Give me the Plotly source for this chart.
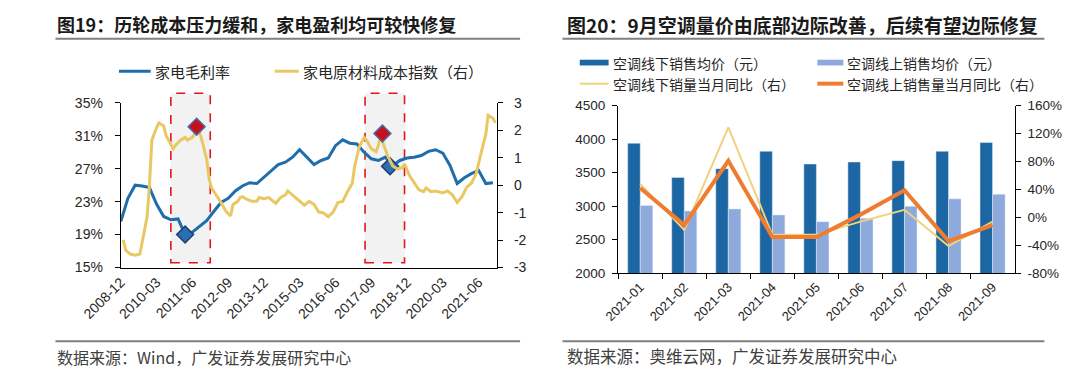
import plotly.graph_objects as go
import pandas as pd

W, H = 1080, 378
CJK = "Noto Sans CJK SC"
LAT = "Liberation Sans, Arial, sans-serif"

# ---------------- Figure 19 data ----------------
margin_dates = pd.date_range("2008-12-01", periods=53, freq="3MS").strftime("%Y-%m-%d").tolist()
margin_values = [20.6, 23.4, 25.0, 24.9, 24.7, 22.7, 21.2, 20.8, 20.9, 19.0,
                 19.3, 20.0, 20.7, 21.8, 22.9, 23.4, 24.3, 24.9, 25.3, 25.2,
                 26.0, 26.8, 27.5, 27.8, 28.4, 29.3, 28.4, 27.5, 28.0, 28.3,
                 29.8, 30.5, 30.1, 30.0, 29.0, 28.2, 28.0, 28.4, 27.4, 28.0,
                 28.3, 28.4, 28.6, 29.1, 29.3, 28.9, 27.4, 25.2, 25.9, 26.4,
                 26.8, 25.2, 25.3]

cost_dates = ["2009-01", "2009-02", "2009-04", "2009-06", "2009-08", "2009-09", "2009-11", "2009-12",
              "2010-01", "2010-03", "2010-04", "2010-06", "2010-07", "2010-08", "2010-10", "2010-11",
              "2011-01", "2011-03", "2011-04", "2011-06", "2011-08", "2011-09", "2011-10", "2011-12",
              "2012-01", "2012-02", "2012-04", "2012-06", "2012-08", "2012-10", "2012-11",
              "2013-01", "2013-02", "2013-03", "2013-05", "2013-07", "2013-09", "2013-10", "2013-12",
              "2014-02", "2014-04", "2014-05", "2014-07", "2014-09", "2014-10", "2014-12",
              "2015-02", "2015-05", "2015-07", "2015-09", "2015-11",
              "2016-01", "2016-03", "2016-05", "2016-07", "2016-09", "2016-11",
              "2017-01", "2017-02", "2017-04", "2017-06", "2017-07", "2017-09", "2017-11", "2017-12",
              "2018-01", "2018-02", "2018-04", "2018-06", "2018-08", "2018-10", "2018-11",
              "2019-01", "2019-03", "2019-05", "2019-07", "2019-08", "2019-10", "2019-12",
              "2020-03", "2020-05", "2020-07", "2020-09", "2020-11",
              "2021-01", "2021-03", "2021-05", "2021-07", "2021-09", "2021-10", "2021-12", "2022-01"]
cost_values = [-1.99, -2.37, -2.51, -2.55, -2.51, -2.09, -1.15, 0.0,
               1.64, 2.09, 2.27, 2.16, 1.81, 1.64, 1.33, 1.46,
               1.64, 1.74, 1.64, 1.74, 2.00, 1.92, 1.64, 0.94,
               0.24, -0.10, -0.35, -0.63, -0.94, -1.12, -0.70,
               -0.59, -0.45, -0.42, -0.52, -0.59, -0.59, -0.45, -0.49,
               -0.45, -0.59, -0.66, -0.45, -0.35, -0.21, -0.35,
               -0.52, -0.73, -0.59, -0.70, -0.98,
               -1.01, -1.15, -0.98, -0.63, -0.59, -0.24,
               0.07, 0.70, 1.40, 1.74, 1.64, 1.33, 1.22, 1.46,
               1.85, 1.50, 1.05, 0.70, 0.59, 0.63, 0.77,
               0.35, 0.07, -0.17, -0.24, -0.10, -0.24, -0.21,
               -0.28, -0.21, -0.35, -0.63, -0.42,
               -0.07, 0.07, 0.42, 1.15, 1.85, 2.55, 2.44, 2.27]

margin_marker_dates = ["2011-03-01", "2018-04-28"]
margin_marker_values = [19.0, 27.3]
cost_marker_dates = ["2011-07-26", "2018-01-21"]
cost_marker_values = [2.13, 1.88]

# highlighted periods (x in dates)
box_starts = ["2010-08-31", "2017-06-13"]
box_ends = ["2012-01-16", "2018-10-30"]

x19_ticks = ["2008-12", "2010-03", "2011-06", "2012-09", "2013-12", "2015-03",
             "2016-06", "2017-09", "2018-12", "2020-03", "2021-06"]
y19_left_ticks = [15, 19, 23, 27, 31, 35]
y19_right_ticks = [-3, -2, -1, 0, 1, 2, 3]

# ---------------- Figure 20 data ----------------
months20 = ["2021-01", "2021-02", "2021-03", "2021-04", "2021-05",
            "2021-06", "2021-07", "2021-08", "2021-09"]
offline_price = [3940, 3430, 3560, 3820, 3630, 3660, 3680, 3820, 3950]
online_price = [3010, 2930, 2960, 2870, 2770, 2820, 3000, 3110, 3180]
offline_vol_yoy = [48, -18, 129, -25, -25, -6, 11, -41, -6]
online_vol_yoy = [42, -11, 81, -28, -28, 4, 39, -34, -11]
y20_right_ticks = [-80, -40, 0, 40, 80, 120, 160]

NAME_MARGIN = "家电毛利率"
NAME_COST = "家电原材料成本指数（右）"
NAME_OFF_P = "空调线下销售均价（元）"
NAME_ON_P = "空调线上销售均价（元）"
NAME_OFF_V = "空调线下销量当月同比（右）"
NAME_ON_V = "空调线上销售量当月同比（右）"

BLUE = "#1f6eab"
YELLOW = "#e9c864"
DARK = "#1c67a3"
LIGHT = "#8eaadc"
THINY = "#efd27f"
ORANGE = "#ee7d31"

fig = go.Figure()

# ---- Fig 19 traces ----
fig.add_trace(go.Scatter(x=margin_dates, y=margin_values, name=NAME_MARGIN, mode="lines",
                         line=dict(color=BLUE, width=3), xaxis="x", yaxis="y"))
fig.add_trace(go.Scatter(x=cost_dates, y=cost_values, name=NAME_COST, mode="lines",
                         line=dict(color=YELLOW, width=3), xaxis="x", yaxis="y2"))
fig.add_trace(go.Scatter(x=margin_marker_dates, y=margin_marker_values, mode="markers",
                         marker=dict(symbol="diamond", size=13, color="#2a6fb0",
                                     line=dict(color="#1f3f73", width=1.5)),
                         xaxis="x", yaxis="y"))
fig.add_trace(go.Scatter(x=cost_marker_dates, y=cost_marker_values, mode="markers",
                         marker=dict(symbol="diamond", size=13, color="#c8101a",
                                     line=dict(color="#4a6aa8", width=1.5)),
                         xaxis="x", yaxis="y2"))

# ---- Fig 20 traces ----
fig.add_trace(go.Bar(x=months20, y=offline_price, name=NAME_OFF_P, marker_color=DARK,
                     xaxis="x2", yaxis="y3"))
fig.add_trace(go.Bar(x=months20, y=online_price, name=NAME_ON_P, marker_color=LIGHT,
                     xaxis="x2", yaxis="y3"))
fig.add_trace(go.Scatter(x=months20, y=offline_vol_yoy, name=NAME_OFF_V, mode="lines",
                         line=dict(color=THINY, width=2), xaxis="x2", yaxis="y4"))
fig.add_trace(go.Scatter(x=months20, y=online_vol_yoy, name=NAME_ON_V, mode="lines",
                         line=dict(color=ORANGE, width=4), xaxis="x2", yaxis="y4"))

axis_common = dict(showgrid=False, zeroline=False, showline=True, linecolor="#000", linewidth=1.3,
                   tickfont=dict(family=LAT, size=14, color="#262626"))

shapes = []
for s, e in zip(box_starts, box_ends):
    shapes.append(dict(type="rect", xref="x", yref="paper", x0=s, x1=e,
                       y0=1 - 266 / H, y1=1 - 89 / H, layer="below",
                       fillcolor="#f2f2f2", line=dict(color="#e0161b", width=1.6, dash="dash")))
# title & source rules
for (xa, xb) in [(15, 498), (542, 1043)]:
    for yy in (32, 348):
        shapes.append(dict(type="line", xref="paper", yref="paper", x0=xa / W, x1=xb / W,
                           y0=1 - yy / H, y1=1 - yy / H, line=dict(color="#808080", width=2)))

annotations = [
    dict(text="<b>图19：历轮成本压力缓和，家电盈利均可较快修复</b>", x=15 / W, y=1 - 17 / H,
         font=dict(family=CJK, size=18, color="#1a1a1a")),
    dict(text="<b>图20：9月空调量价由底部边际改善，后续有望边际修复</b>", x=545 / W, y=1 - 17 / H,
         font=dict(family=CJK, size=19, color="#1a1a1a")),
    dict(text="数据来源：Wind，广发证券发展研究中心", x=15 / W, y=1 - 364 / H,
         font=dict(family=CJK, size=16, color="#404040")),
    dict(text="数据来源：奥维云网，广发证券发展研究中心", x=545 / W, y=1 - 363 / H,
         font=dict(family=CJK, size=16.5, color="#404040")),
]

# ---- legends (drawn as samples + labels) ----
legend_items = [
    # (kind, color, thickness, x0, x1, y, label, fontsize)
    ("line", BLUE, 3, 81, 114, 66, NAME_MARGIN, 15),
    ("line", YELLOW, 3, 243, 268, 66, NAME_COST, 15),
    ("rect", DARK, 6, 560, 590, 57, NAME_OFF_P, 14),
    ("rect", LIGHT, 6, 807, 834, 57, NAME_ON_P, 14),
    ("line", THINY, 2, 560, 590, 79, NAME_OFF_V, 14),
    ("line", ORANGE, 4, 807, 834, 79, NAME_ON_V, 14),
]
for kind, col, th, xa, xb, yy, label, fs in legend_items:
    if kind == "line":
        shapes.append(dict(type="line", xref="paper", yref="paper", x0=xa / W, x1=xb / W,
                           y0=1 - yy / H, y1=1 - yy / H, line=dict(color=col, width=th)))
    else:
        shapes.append(dict(type="rect", xref="paper", yref="paper", x0=xa / W, x1=xb / W,
                           y0=1 - (yy + th / 2) / H, y1=1 - (yy - th / 2) / H,
                           fillcolor=col, line=dict(width=0)))
    annotations.append(dict(text=label, x=(xb + 2) / W, y=1 - yy / H,
                            font=dict(family=CJK, size=fs, color="#262626")))

for a in annotations:
    a.update(xref="paper", yref="paper", xanchor="left", yanchor="middle", showarrow=False)

fig.update_layout(
    autosize=True, margin=dict(l=0, r=0, t=0, b=0, pad=0),
    paper_bgcolor="white", plot_bgcolor="rgba(0,0,0,0)",
    showlegend=False,
    barmode="group", bargap=0.43, bargroupgap=0,
    xaxis=dict(axis_common, domain=[83 / W, 474 / W], anchor="y", type="date",
               range=["2008-12-01", "2022-01-22"],
               tickvals=[t + "-01" for t in x19_ticks], ticktext=x19_ticks,
               tickangle=-45, ticks=""),
    yaxis=dict(axis_common, domain=[1 - 271 / H, 1 - 99 / H], anchor="x", range=[15, 35],
               tickvals=y19_left_ticks, ticktext=[f"{v}%" for v in y19_left_ticks],
               ticks="outside", ticklen=5, tickcolor="#000", ticklabelstandoff=9),
    yaxis2=dict(axis_common, overlaying="y", side="right", anchor="x", range=[-3, 3],
                tickvals=y19_right_ticks, ticktext=[str(v) for v in y19_right_ticks],
                ticks="outside", ticklen=5, tickcolor="#000", ticklabelstandoff=8),
    xaxis2=dict(axis_common, domain=[600 / W, 1012 / W], anchor="y3", type="category",
                tickangle=-45, ticks="outside", ticklen=5, tickcolor="#000", tickson="boundaries",
                tickfont=dict(family=LAT, size=13, color="#262626")),
    yaxis3=dict(axis_common, domain=[1 - 277 / H, 1 - 102 / H], anchor="x2", range=[2000, 4500],
                dtick=500, ticks="outside", ticklen=5, tickcolor="#000", ticklabelstandoff=4,
                tickfont=dict(family=LAT, size=13.5, color="#262626")),
    yaxis4=dict(axis_common, overlaying="y3", side="right", anchor="x2", range=[-80, 160],
                tickvals=y20_right_ticks, ticktext=[f"{v}%" for v in y20_right_ticks],
                ticks="outside", ticklen=5, tickcolor="#000", ticklabelstandoff=4,
                tickfont=dict(family=LAT, size=13.5, color="#262626")),
    shapes=shapes, annotations=annotations,
)

post = (
    "document.documentElement.style.margin='0';document.documentElement.style.height='100%';"
    "document.body.style.margin='0';document.body.style.height='100%';"
    "document.body.style.overflow='hidden';"
    "var gd=document.getElementById('{plot_id}');"
    "gd.style.width='100vw';gd.style.height='100vh';"
    "Plotly.Plots.resize(gd);"
)
fig.write_html("out.html", config={"displayModeBar": False, "responsive": True},
               default_width="100vw", default_height="100vh", post_script=post)
